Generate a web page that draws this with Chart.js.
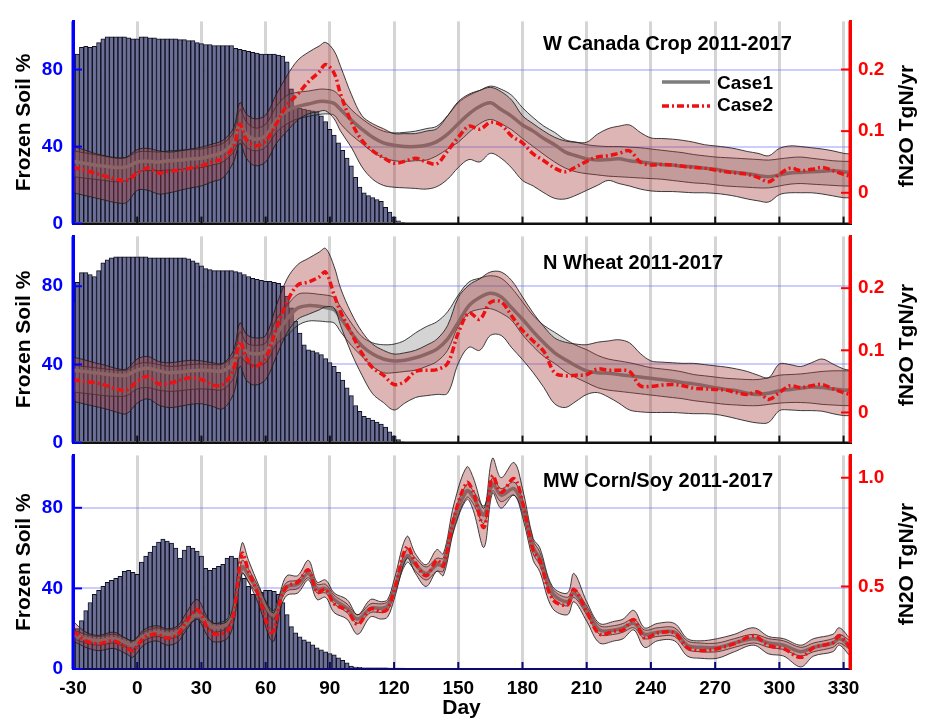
<!DOCTYPE html>
<html>
<head>
<meta charset="utf-8">
<script src="https://cdn.jsdelivr.net/npm/chart.js@4.4.1/dist/chart.umd.min.js"></script>
<style>
  body { margin: 0; background: #fff; width: 927px; height: 720px; overflow: hidden; position: relative;
         font-family: "Liberation Sans", Arial, Helvetica, sans-serif; }
  canvas { position: absolute; left: 0; }
  .lbl { position: absolute; font-weight: bold; color: #000; white-space: nowrap; line-height: 1; }
  .ttl { font-size: 20px; }
  .leg { font-size: 19px; }
  .rt { font-size: 21px; transform: translate(-50%, -50%) rotate(-90deg); }
</style>
</head>
<body>
<canvas id="c1" width="927" height="245" style="top:0px"></canvas>
<canvas id="c2" width="927" height="249" style="top:215px"></canvas>
<canvas id="c3" width="927" height="286" style="top:434px"></canvas>

<div class="lbl ttl" style="left:543px; top:33px">W Canada Crop 2011-2017</div>
<div class="lbl ttl" style="left:543px; top:252px">N Wheat 2011-2017</div>
<div class="lbl ttl" style="left:543px; top:470px">MW Corn/Soy 2011-2017</div>

<svg style="position:absolute; left:660px; top:70px" width="52" height="44">
  <line x1="2" y1="12" x2="50" y2="12" stroke="#7d7d7d" stroke-width="3.5"/>
  <line x1="2" y1="36" x2="50" y2="36" stroke="#ee1111" stroke-width="3.5" stroke-dasharray="7 3 2 3"/>
</svg>
<div class="lbl leg" style="left:717px; top:73px">Case1</div>
<div class="lbl leg" style="left:717px; top:95px">Case2</div>

<div class="lbl rt" style="left:905px; top:126px">fN2O TgN/yr</div>
<div class="lbl rt" style="left:905px; top:345px">fN2O TgN/yr</div>
<div class="lbl rt" style="left:905px; top:564px">fN2O TgN/yr</div>

<script>
// ---- tick labels ----
const xTicks = [-30, 0, 30, 60, 90, 120, 150, 180, 210, 240, 270, 300, 330];
const leftTicks = [0, 40, 80];
const rightTicksTop = [0, 0.1, 0.2];
const rightTicksBottom = [0.5, 1];

// ---- frozen soil bars (%), every 2 days ----
const barDays = [-30,-28,-26,-24,-22,-20,-18,-16,-14,-12,-10,-8,-6,-4,-2,0,2,4,6,8,10,12,14,16,18,20,22,24,26,28,30,32,34,36,38,
  40,42,44,46,48,50,52,54,56,58,60,62,64,66,68,70,72,74,76,78,80,82,84,86,88,90,92,94,96,98,100,102,104,106,108,110,112,114,116,118,120,122,124];

const frozenCanada = [80,88,91.5,92,91.5,92,94,96,97,97,97,97,97,96.5,96,96,97,97,96.5,96.5,96,96,96,96,96,95.5,95.5,95,95,94,93.5,93,93,92.5,92.5,
  92.5,92.5,92.5,91,90.5,90,89.5,89,88.5,88,88,88,88,87.5,87,84,70,61,60,59.5,59,58.5,58,56,53,49,46,42,38,34,30,24,19,16,14.5,13.5,12.5,11.5,8.5,6,3.5,1.5,0.5];

const frozenWheat = [72,82,87,87,86,85,88,92,93.5,94.5,95,95,95,95,95,95,95,95,94.5,94.5,94.5,94.5,94.5,94.5,94.5,94.5,94.5,94,93,92,90.5,89,88.5,88,88,
  88,88,88,87.5,87,86,85,84,83.5,83,82.5,82.5,82,81.5,80,75,69,62,56,50,47.5,47,46,45,43,41,39,36,32,28,24,19,16,13.5,12.5,11.5,10.5,9.5,8,5.5,3.5,1.5,0.5];

const frozenCornSoy = [20,20,24,29,33,37,39,41,43,44,45,46,48.5,49,48,47,53,56,58,61,63,64.5,63.5,62.5,60,55,59,61,60,58.5,56,50,49,50,51,
  52,55,56,55,47,45,41,37,37,38,39,39,38.5,37,33,27,21,18,16,14.5,13.5,12,10.5,9.5,8.5,7.7,7,5.5,4.3,3,1.5,1,0.8,0.6,0.6,0.6,0.6,0.6,0.6,0.5,0.5,0.3,0.2];

// ---- fN2O (TgN/yr), W Canada and N Wheat panels ----
const days12 = [-30,-25,-20,-15,-10,-5,0,5,10,15,20,25,30,35,40,45,
  48,51,55,60,65,70,75,80,85,88,
  92,95,100,105,110,115,120,125,130,135,140,145,150,155,160,165,170,175,180,185,190,195,200,205,210,215,220,225,230,235,
  240,245,250,255,260,265,270,275,280,285,290,295,300,305,310,315,320,325,330,333];

const case1MeanCanada = [0.051,0.048,0.045,0.043,0.041,0.042,0.050,0.051,0.050,0.052,0.053,0.055,0.056,0.060,0.066,0.082,
  0.111,0.095,0.087,0.093,0.118,0.133,0.140,0.144,0.148,0.148,
  0.145,0.135,0.118,0.103,0.090,0.081,0.077,0.075,0.075,0.077,0.083,0.095,0.112,0.128,0.140,0.146,0.135,0.124,0.110,0.100,
  0.088,0.078,0.066,0.060,0.055,0.053,0.054,0.055,0.052,0.050,0.048,0.046,0.045,0.043,0.042,0.040,0.038,0.035,0.033,0.031,
  0.028,0.026,0.029,0.032,0.033,0.034,0.035,0.036,0.034,0.033];
const case1HiCanada = [0.068,0.065,0.062,0.059,0.056,0.057,0.066,0.067,0.066,0.068,0.069,0.070,0.071,0.075,0.080,0.098,
  0.135,0.115,0.105,0.111,0.140,0.158,0.163,0.165,0.168,0.168,
  0.165,0.155,0.135,0.120,0.108,0.100,0.097,0.098,0.100,0.104,0.108,0.125,0.146,0.158,0.166,0.173,0.168,0.158,0.138,0.122,
  0.108,0.098,0.086,0.082,0.078,0.076,0.075,0.075,0.074,0.073,0.071,0.069,0.067,0.065,0.062,0.060,0.058,0.057,0.056,0.055,
  0.054,0.053,0.055,0.057,0.058,0.056,0.054,0.052,0.051,0.051];
const case1LoCanada = [0.026,0.024,0.022,0.020,0.018,0.020,0.034,0.036,0.036,0.037,0.038,0.040,0.041,0.045,0.050,0.066,
  0.086,0.074,0.068,0.074,0.098,0.112,0.120,0.124,0.127,0.128,
  0.126,0.112,0.094,0.080,0.066,0.057,0.052,0.051,0.052,0.053,0.060,0.071,0.082,0.098,0.112,0.119,0.112,0.102,0.088,0.075,
  0.062,0.050,0.040,0.034,0.031,0.029,0.027,0.026,0.025,0.024,0.023,0.022,0.020,0.018,0.016,0.015,0.013,0.011,0.010,0.009,
  0.008,0.008,0.011,0.014,0.015,0.014,0.013,0.012,0.011,0.011];
const case2MeanCanada = [0.041,0.037,0.032,0.027,0.022,0.020,0.032,0.040,0.032,0.035,0.037,0.040,0.044,0.050,0.056,0.075,
  0.111,0.086,0.076,0.084,0.112,0.142,0.160,0.180,0.196,0.208,
  0.194,0.160,0.115,0.085,0.068,0.057,0.048,0.051,0.056,0.050,0.047,0.068,0.090,0.108,0.103,0.114,0.110,0.092,0.081,0.063,
  0.052,0.040,0.034,0.042,0.051,0.058,0.060,0.064,0.068,0.050,0.045,0.046,0.045,0.043,0.041,0.040,0.037,0.034,0.032,0.030,
  0.025,0.018,0.030,0.040,0.036,0.038,0.041,0.036,0.030,0.027];
const case2HiCanada = [0.075,0.070,0.064,0.060,0.057,0.058,0.070,0.072,0.068,0.066,0.068,0.071,0.074,0.079,0.085,0.105,
  0.146,0.128,0.120,0.126,0.160,0.190,0.215,0.228,0.238,0.244,
  0.230,0.205,0.160,0.125,0.112,0.104,0.096,0.096,0.096,0.100,0.104,0.125,0.148,0.160,0.166,0.171,0.164,0.150,0.125,0.112,
  0.100,0.090,0.084,0.082,0.082,0.095,0.104,0.108,0.110,0.098,0.089,0.088,0.087,0.085,0.082,0.078,0.076,0.074,0.071,0.067,
  0.064,0.060,0.072,0.076,0.075,0.073,0.071,0.068,0.064,0.063];
const case2LoCanada = [0.000,-0.004,-0.008,-0.012,-0.016,-0.016,0.004,0.004,-0.002,0.000,0.004,0.008,0.011,0.018,0.024,0.050,
  0.080,0.056,0.044,0.050,0.080,0.100,0.118,0.128,0.132,0.133,
  0.120,0.100,0.074,0.042,0.022,0.012,0.009,0.008,0.007,0.006,0.010,0.022,0.041,0.054,0.050,0.064,0.056,0.040,0.020,0.011,
  0.000,-0.009,-0.010,-0.004,0.004,0.012,0.020,0.015,0.011,0.006,0.003,0.002,0.002,0.001,0.000,0.000,-0.001,-0.003,-0.006,-0.010,
  -0.013,-0.015,-0.003,0.000,0.000,0.000,-0.002,-0.005,-0.008,-0.008];

const case1MeanWheat = [0.068,0.066,0.064,0.062,0.060,0.060,0.068,0.071,0.067,0.064,0.065,0.067,0.068,0.067,0.067,0.080,
  0.109,0.098,0.094,0.098,0.125,0.150,0.168,0.172,0.171,0.169,
  0.165,0.152,0.128,0.107,0.094,0.086,0.083,0.084,0.088,0.094,0.102,0.118,0.145,0.172,0.185,0.192,0.186,0.168,0.150,0.130,
  0.112,0.096,0.085,0.075,0.067,0.064,0.063,0.061,0.059,0.057,0.055,0.053,0.051,0.048,0.046,0.043,0.040,0.037,0.035,0.031,
  0.029,0.031,0.035,0.037,0.039,0.041,0.040,0.038,0.036,0.036];
const case1HiWheat = [0.076,0.074,0.072,0.070,0.068,0.068,0.078,0.080,0.077,0.074,0.075,0.077,0.078,0.077,0.078,0.092,
  0.129,0.112,0.108,0.112,0.150,0.172,0.190,0.192,0.190,0.189,
  0.185,0.170,0.144,0.122,0.112,0.109,0.110,0.116,0.128,0.138,0.146,0.162,0.189,0.210,0.216,0.220,0.216,0.200,0.178,0.156,
  0.140,0.129,0.118,0.108,0.101,0.092,0.086,0.083,0.080,0.076,0.072,0.070,0.068,0.065,0.061,0.059,0.057,0.055,0.054,0.053,
  0.053,0.056,0.060,0.061,0.062,0.064,0.066,0.067,0.067,0.067];
const case1LoWheat = [0.033,0.031,0.029,0.027,0.026,0.027,0.038,0.040,0.036,0.034,0.035,0.037,0.038,0.037,0.037,0.055,
  0.089,0.080,0.076,0.080,0.110,0.124,0.140,0.147,0.147,0.146,
  0.144,0.130,0.108,0.090,0.074,0.064,0.064,0.066,0.068,0.074,0.082,0.100,0.139,0.160,0.166,0.167,0.160,0.148,0.125,0.106,
  0.090,0.079,0.066,0.056,0.048,0.040,0.036,0.034,0.032,0.030,0.028,0.026,0.024,0.022,0.019,0.017,0.015,0.013,0.012,0.011,
  0.011,0.013,0.015,0.016,0.016,0.015,0.013,0.012,0.011,0.011];
const case2MeanWheat = [0.053,0.050,0.048,0.044,0.038,0.036,0.050,0.058,0.046,0.047,0.052,0.056,0.053,0.044,0.045,0.070,
  0.114,0.088,0.074,0.088,0.135,0.178,0.205,0.210,0.218,0.226,
  0.189,0.162,0.128,0.095,0.072,0.060,0.045,0.050,0.066,0.068,0.069,0.079,0.128,0.160,0.150,0.177,0.178,0.155,0.132,0.115,
  0.098,0.064,0.059,0.060,0.061,0.070,0.068,0.068,0.066,0.043,0.042,0.044,0.045,0.043,0.039,0.038,0.037,0.036,0.032,0.029,
  0.033,0.021,0.032,0.043,0.040,0.043,0.045,0.038,0.032,0.029];
const case2HiWheat = [0.089,0.085,0.080,0.076,0.071,0.070,0.086,0.090,0.082,0.080,0.082,0.084,0.083,0.080,0.079,0.100,
  0.144,0.126,0.120,0.124,0.172,0.215,0.238,0.248,0.258,0.264,
  0.235,0.200,0.160,0.130,0.110,0.100,0.094,0.096,0.100,0.108,0.118,0.140,0.185,0.205,0.215,0.226,0.226,0.212,0.186,0.160,
  0.138,0.120,0.113,0.110,0.109,0.113,0.115,0.117,0.112,0.095,0.083,0.081,0.080,0.079,0.079,0.077,0.075,0.073,0.070,0.066,
  0.060,0.056,0.078,0.077,0.074,0.080,0.086,0.078,0.070,0.068];
const case2LoWheat = [0.018,0.014,0.010,0.006,0.001,-0.002,0.015,0.022,0.012,0.008,0.010,0.013,0.014,0.010,0.006,0.030,
  0.074,0.052,0.044,0.053,0.090,0.128,0.150,0.158,0.165,0.170,
  0.168,0.140,0.096,0.060,0.030,0.016,0.004,0.015,0.024,0.027,0.029,0.031,0.079,0.105,0.100,0.124,0.124,0.104,0.085,0.064,
  0.040,0.014,0.008,0.018,0.029,0.032,0.025,0.015,0.004,0.001,0.000,0.000,0.000,-0.001,-0.002,-0.002,-0.003,-0.006,-0.010,-0.014,
  -0.017,-0.016,0.003,0.004,0.003,0.003,0.002,-0.002,-0.005,-0.005];

// ---- fN2O (TgN/yr), MW Corn/Soy panel ----
const days3 = [-30,-24,-18,-11,-5,-2,3,9,14,19,23,28,
  33,36,42,45,49,52,57,62,64,67,70,75,
  80,84,88,92,98,103,109,114,117,120,126,130,
  135,140,143,148,154,157,162,166,170,176,180,185,
  188,194,201,204,210,216,223,227,232,237,243,251,
  257,263,271,279,288,295,302,310,316,325,328,333];

const case1MeanCornSoy = [0.280,0.260,0.250,0.260,0.240,0.230,0.270,0.290,0.280,0.290,0.330,0.370,
  0.330,0.310,0.330,0.400,0.590,0.550,0.470,0.380,0.370,0.450,0.500,0.510,
  0.560,0.490,0.490,0.440,0.400,0.350,0.400,0.400,0.410,0.480,0.640,0.600,
  0.560,0.600,0.600,0.800,0.940,0.910,0.830,0.970,0.920,0.950,0.870,0.680,
  0.630,0.470,0.430,0.470,0.390,0.300,0.300,0.310,0.330,0.280,0.290,0.290,
  0.230,0.220,0.220,0.240,0.260,0.240,0.230,0.200,0.220,0.240,0.260,0.230];
const case1HiCornSoy = [0.300,0.280,0.270,0.280,0.260,0.250,0.290,0.310,0.300,0.310,0.350,0.390,
  0.350,0.330,0.350,0.420,0.620,0.580,0.490,0.400,0.390,0.470,0.520,0.530,
  0.580,0.510,0.510,0.460,0.420,0.370,0.420,0.420,0.430,0.500,0.670,0.630,
  0.590,0.630,0.630,0.830,0.970,0.940,0.870,1.000,0.950,0.980,0.900,0.710,
  0.660,0.490,0.450,0.490,0.410,0.320,0.320,0.330,0.350,0.300,0.310,0.310,
  0.250,0.240,0.240,0.260,0.280,0.260,0.250,0.220,0.240,0.260,0.280,0.250];
const case1LoCornSoy = [0.260,0.240,0.230,0.240,0.220,0.210,0.250,0.270,0.260,0.270,0.310,0.350,
  0.310,0.290,0.310,0.380,0.560,0.520,0.450,0.360,0.350,0.430,0.480,0.490,
  0.540,0.470,0.470,0.420,0.380,0.330,0.380,0.380,0.390,0.460,0.610,0.570,
  0.530,0.570,0.570,0.770,0.910,0.880,0.790,0.940,0.890,0.920,0.840,0.650,
  0.600,0.450,0.410,0.450,0.370,0.280,0.280,0.290,0.310,0.260,0.270,0.270,
  0.210,0.200,0.200,0.220,0.240,0.220,0.210,0.180,0.200,0.220,0.240,0.210];
const case2MeanCornSoy = [0.295,0.250,0.237,0.250,0.219,0.205,0.263,0.281,0.263,0.281,0.339,0.393,
  0.308,0.281,0.295,0.370,0.652,0.570,0.450,0.290,0.300,0.440,0.500,0.520,
  0.576,0.473,0.487,0.420,0.390,0.326,0.397,0.384,0.397,0.480,0.683,0.607,
  0.549,0.621,0.594,0.817,0.978,0.933,0.772,1.009,0.933,0.996,0.888,0.665,
  0.621,0.442,0.415,0.487,0.384,0.281,0.295,0.300,0.348,0.263,0.286,0.286,
  0.219,0.205,0.214,0.237,0.272,0.228,0.214,0.174,0.219,0.241,0.272,0.219];
const case2HiCornSoy = [0.340,0.290,0.275,0.290,0.260,0.250,0.300,0.320,0.305,0.320,0.380,0.440,
  0.355,0.330,0.340,0.420,0.700,0.620,0.500,0.390,0.380,0.480,0.550,0.550,
  0.620,0.520,0.530,0.470,0.440,0.370,0.440,0.430,0.440,0.530,0.730,0.650,
  0.600,0.670,0.650,0.880,1.050,1.000,0.860,1.090,1.000,1.070,0.950,0.720,
  0.680,0.500,0.470,0.560,0.430,0.330,0.340,0.350,0.390,0.310,0.330,0.330,
  0.260,0.250,0.260,0.280,0.310,0.270,0.260,0.230,0.260,0.280,0.310,0.260];
const case2LoCornSoy = [0.250,0.220,0.205,0.215,0.190,0.175,0.230,0.250,0.230,0.245,0.300,0.350,
  0.270,0.245,0.260,0.330,0.560,0.520,0.410,0.260,0.250,0.400,0.460,0.470,
  0.530,0.440,0.450,0.380,0.350,0.280,0.360,0.350,0.360,0.440,0.630,0.560,
  0.500,0.570,0.550,0.760,0.900,0.850,0.680,0.930,0.860,0.920,0.820,0.620,
  0.570,0.400,0.370,0.430,0.340,0.240,0.250,0.260,0.300,0.220,0.250,0.250,
  0.180,0.170,0.170,0.200,0.230,0.190,0.180,0.130,0.180,0.200,0.230,0.180];

// ---- drawing ----
const FONT = '"Liberation Sans", Arial, Helvetica, sans-serif';
const BAR_FILL = '#6c6f96', BAR_EDGE = '#0e0e1e';
const GRAY_FILL = 'rgba(120,120,120,0.32)', RED_FILL = 'rgba(165,60,60,0.38)';
const EDGE = 'rgba(30,30,30,0.85)';

function pts(days, vals) {
  return vals.map((v, i) => ({ x: days[i], y: v }));
}

function band(days, vals, fill, color, order) {
  return { type: 'line', data: pts(days, vals), yAxisID: 'yR', fill: fill, backgroundColor: color,
           borderColor: EDGE, borderWidth: 1, pointRadius: 0, tension: 0.35, order: order };
}

// inward tick marks and axis lines drawn over the bars
const innerTicks = {
  id: 'innerTicks',
  afterDatasetsDraw(chart, args, opts) {
    const { ctx, chartArea: a, scales } = chart;
    ctx.save();
    ctx.lineWidth = 2;
    ctx.strokeStyle = opts.bottomColor;
    ctx.beginPath(); ctx.moveTo(a.left, a.bottom); ctx.lineTo(a.right, a.bottom); ctx.stroke();
    scales.x.ticks.forEach(t => {
      const px = scales.x.getPixelForValue(t.value);
      ctx.beginPath(); ctx.moveTo(px, a.bottom); ctx.lineTo(px, a.bottom - 7); ctx.stroke();
    });
    ctx.lineWidth = 3;
    ctx.strokeStyle = '#0000ff';
    ctx.beginPath(); ctx.moveTo(a.left, a.top); ctx.lineTo(a.left, a.bottom); ctx.stroke();
    ctx.lineWidth = 2;
    scales.yL.ticks.forEach(t => {
      const py = scales.yL.getPixelForValue(t.value);
      ctx.beginPath(); ctx.moveTo(a.left, py); ctx.lineTo(a.left + 9, py); ctx.stroke();
    });
    ctx.lineWidth = 3;
    ctx.strokeStyle = '#ff0000';
    ctx.beginPath(); ctx.moveTo(a.right, a.top); ctx.lineTo(a.right, a.bottom); ctx.stroke();
    ctx.lineWidth = 2;
    scales.yR.ticks.forEach(t => {
      const py = scales.yR.getPixelForValue(t.value);
      ctx.beginPath(); ctx.moveTo(a.right, py); ctx.lineTo(a.right - 9, py); ctx.stroke();
    });
    ctx.restore();
  }
};

function makePanel(p) {
  const tickFont = { family: FONT, size: 19, weight: 'bold' };
  const titleFont = { family: FONT, size: 21, weight: 'bold' };
  return new Chart(document.getElementById(p.id).getContext('2d'), {
    type: 'bar',
    data: {
      datasets: [
        { type: 'bar', data: pts(barDays, p.bars), yAxisID: 'yL', backgroundColor: BAR_FILL, borderColor: BAR_EDGE,
          borderWidth: { left: 1, right: 1, top: 1, bottom: 0 }, borderSkipped: false,
          barPercentage: 1, categoryPercentage: 1, order: 10 },
        band(p.days, p.c1Lo, false, GRAY_FILL, 7),
        band(p.days, p.c1Hi, '-1', GRAY_FILL, 7),
        band(p.days, p.c2Lo, false, RED_FILL, 5),
        band(p.days, p.c2Hi, '-1', RED_FILL, 5),
        // Case1 mean sits under the Case2 band, as in the original
        { type: 'line', data: pts(p.days, p.c1Mean), yAxisID: 'yR', borderColor: '#7d7d7d', borderWidth: 3.5,
          pointRadius: 0, tension: 0.35, fill: false, order: 6 },
        { type: 'line', data: pts(p.days, p.c2Mean), yAxisID: 'yR', borderColor: '#ee1111', borderWidth: 3.5,
          borderDash: [7, 3, 2, 3], pointRadius: 0, tension: 0.35, fill: false, order: 1 }
      ]
    },
    options: {
      responsive: false,
      animation: false,
      devicePixelRatio: 1,
      layout: { padding: { top: p.padTop, bottom: p.padBottom, left: 0, right: 0 } },
      plugins: { legend: { display: false }, tooltip: { enabled: false }, innerTicks: { bottomColor: p.bottomColor } },
      scales: {
        x: {
          type: 'linear', min: -30, max: 333, offset: false,
          grid: { color: 'rgba(150,150,150,0.4)', lineWidth: 3, drawTicks: false, offset: false },
          border: { display: true, color: p.bottomColor, width: 2 },
          afterBuildTicks: s => { s.ticks = xTicks.map(v => ({ value: v })); },
          ticks: { display: p.showX, color: '#000', padding: 8, maxRotation: 0, font: tickFont },
          title: { display: p.showX, text: 'Day', color: '#000', font: { family: FONT, size: 21, weight: 'bold', lineHeight: 1 },
                   padding: { top: 0, bottom: 1 } },
          afterFit: s => { s.height = p.showX ? 51 : 0; }
        },
        yL: {
          position: 'left', min: 0, max: p.leftMax,
          grid: { color: 'rgba(110,110,255,0.35)', lineWidth: 2, drawTicks: false },
          border: { display: true, color: '#0000ff', width: 3 },
          afterBuildTicks: s => { s.ticks = leftTicks.map(v => ({ value: v })); },
          ticks: { color: '#0000ff', padding: 10, font: tickFont },
          title: { display: true, text: 'Frozen Soil %', color: '#000', font: titleFont, padding: { top: 12, bottom: 0 } },
          afterFit: s => { s.width = 73; }
        },
        yR: {
          position: 'right', min: p.rightMin, max: p.rightMax,
          grid: { drawOnChartArea: false, drawTicks: false },
          border: { display: true, color: '#ff0000', width: 3 },
          afterBuildTicks: s => { s.ticks = p.rightTicks.map(v => ({ value: v })); },
          ticks: { color: '#ff0000', padding: 8, font: tickFont },
          afterFit: s => { s.width = 77; }
        }
      }
    },
    plugins: [innerTicks]
  });
}

makePanel({ id: 'c1', bars: frozenCanada, days: days12,
  c1Mean: case1MeanCanada, c1Hi: case1HiCanada, c1Lo: case1LoCanada,
  c2Mean: case2MeanCanada, c2Hi: case2HiCanada, c2Lo: case2LoCanada,
  leftMax: 105, rightMin: -0.05, rightMax: 0.278, rightTicks: rightTicksTop,
  padTop: 12, padBottom: 15, showX: false, bottomColor: '#111111' });

makePanel({ id: 'c2', bars: frozenWheat, days: days12,
  c1Mean: case1MeanWheat, c1Hi: case1HiWheat, c1Lo: case1LoWheat,
  c2Mean: case2MeanWheat, c2Hi: case2HiWheat, c2Lo: case2LoWheat,
  leftMax: 105.5, rightMin: -0.0485, rightMax: 0.2833, rightTicks: rightTicksTop,
  padTop: 15, padBottom: 15, showX: false, bottomColor: '#111111' });

makePanel({ id: 'c3', bars: frozenCornSoy, days: days3,
  c1Mean: case1MeanCornSoy, c1Hi: case1HiCornSoy, c1Lo: case1LoCornSoy,
  c2Mean: case2MeanCornSoy, c2Hi: case2HiCornSoy, c2Lo: case2LoCornSoy,
  leftMax: 106, rightMin: 0.1205, rightMax: 1.1027, rightTicks: rightTicksBottom,
  padTop: 15, padBottom: 0, showX: true, bottomColor: '#0a0a70' });
</script>
</body>
</html>
